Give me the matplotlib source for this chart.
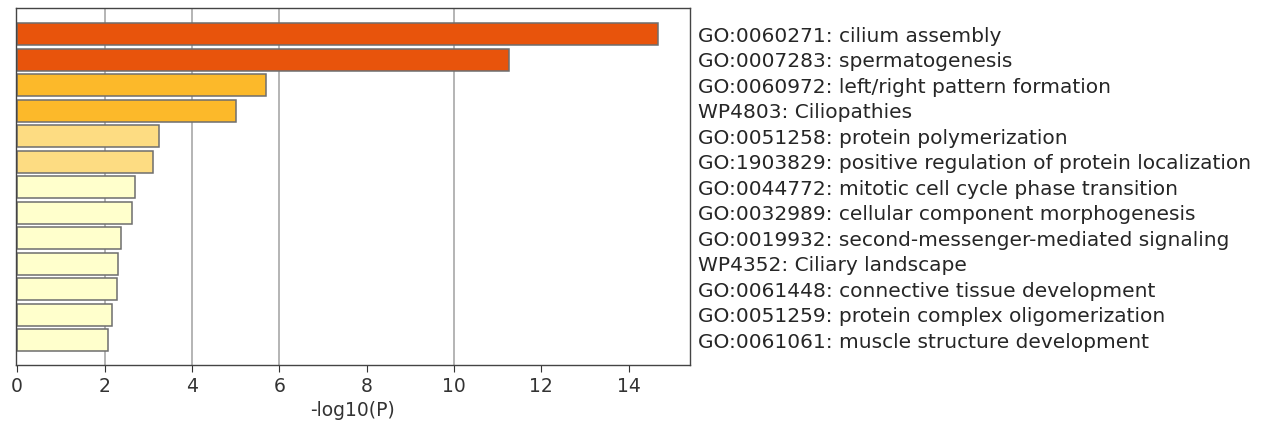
import matplotlib
matplotlib.use("Agg")
import matplotlib.pyplot as plt

# enriched terms, top to bottom
terms = [
    "GO:0060271: cilium assembly",
    "GO:0007283: spermatogenesis",
    "GO:0060972: left/right pattern formation",
    "WP4803: Ciliopathies",
    "GO:0051258: protein polymerization",
    "GO:1903829: positive regulation of protein localization",
    "GO:0044772: mitotic cell cycle phase transition",
    "GO:0032989: cellular component morphogenesis",
    "GO:0019932: second-messenger-mediated signaling",
    "WP4352: Ciliary landscape",
    "GO:0061448: connective tissue development",
    "GO:0051259: protein complex oligomerization",
    "GO:0061061: muscle structure development",
]
log_p = [14.68, 11.27, 5.69, 5.0, 3.24, 3.1, 2.69, 2.64, 2.37, 2.32, 2.28, 2.16, 2.09]
grid_cuts = [2, 4, 6, 10]


def bar_color(v):
    "Metascape-like colour bins by -log10(P)"
    if v >= 10:
        return "#e8540c"
    if v >= 4:
        return "#fcb92a"
    if v >= 3:
        return "#fddc82"
    return "#ffffcc"


def main():
    fig = plt.figure(figsize=(12.69, 4.32), dpi=100)
    ax = fig.add_axes([0.0125, 0.155, 0.531, 0.826])

    for g in grid_cuts:
        ax.axvline(g, color="#b4b4b4", linewidth=1.4, zorder=0)

    ypos = list(range(len(terms)))
    ax.barh(ypos, log_p, height=0.86, color=[bar_color(v) for v in log_p],
            edgecolor="#6e6e6e", linewidth=1.1, zorder=2)

    ax.set_xlim(-0.03, 15.4)
    ax.set_ylim(len(terms) - 0.02, -1.02)
    ax.set_xticks(range(0, 15, 2))
    ax.set_xlabel("-log10(P)", fontsize=13.5, color="#333333", labelpad=4)
    ax.tick_params(axis="x", labelsize=13.5, colors="#333333", length=5)

    ax.set_yticks(ypos)
    ax.set_yticklabels(terms, fontsize=14.5, color="#262626")
    ax.yaxis.tick_right()
    ax.tick_params(axis="y", length=0, pad=6)

    for s in ax.spines.values():
        s.set_color("#444444")
        s.set_linewidth(1.0)

    fig.savefig("out.png", dpi=100)


if __name__ == "__main__":
    main()
